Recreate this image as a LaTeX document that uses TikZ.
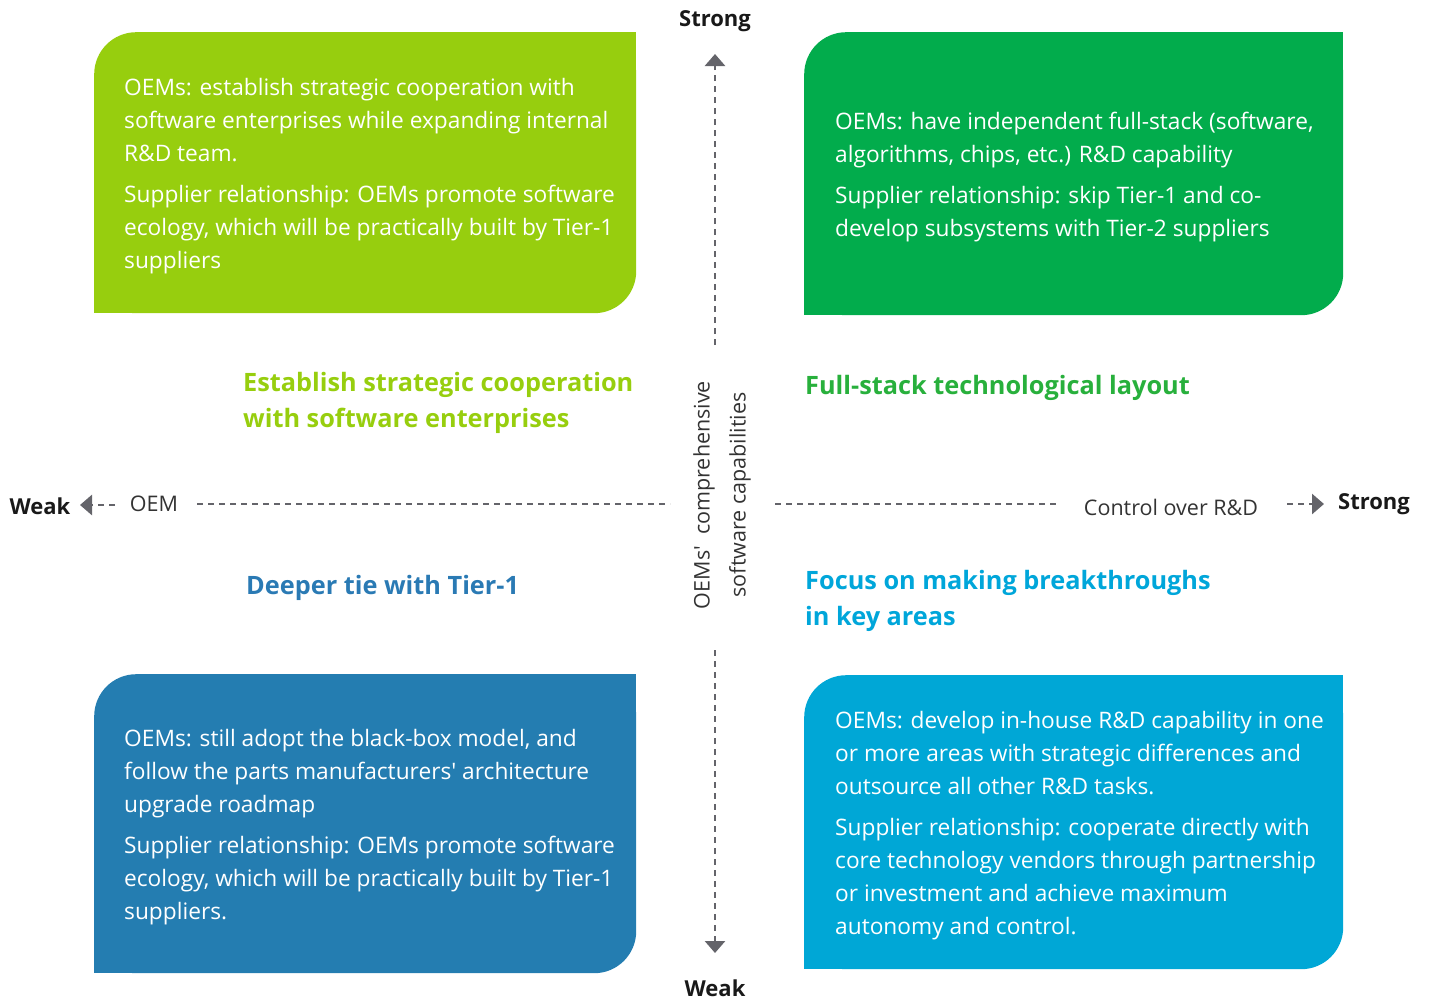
\documentclass[tikz,border=0pt]{standalone}
\usepackage{fontspec}
\setmainfont{Open Sans}
\usetikzlibrary{arrows.meta}
\definecolor{lgreen}{RGB}{151,206,14}
\definecolor{dgreen}{RGB}{2,172,76}
\definecolor{hgreen}{RGB}{40,176,60}
\definecolor{dblue}{RGB}{36,125,177}
\definecolor{hblue}{RGB}{42,122,180}
\definecolor{lblue}{RGB}{0,167,214}
\definecolor{hlblue}{RGB}{0,166,218}
\definecolor{axisgray}{RGB}{100,100,106}
\definecolor{labelgray}{RGB}{51,51,51}
\tikzset{
  quadbox/.style={minimum width=#1, inner sep=0pt, rounded corners=42pt, anchor=north west},
  boxtext/.style={text=white, align=left, inner sep=0pt, anchor=west,
    font={\fontsize{22.7}{33}\selectfont}},
  heading/.style={align=left, inner sep=0pt, anchor=west,
    font={\fontsize{25.3}{36}\selectfont\bfseries}},
  axislabel/.style={inner sep=0pt, text=labelgray, font={\fontsize{21.5}{26}\selectfont}},
  endlabel/.style={inner sep=0pt, text=black!90, font={\fontsize{22}{26}\selectfont\bfseries}},
  dashline/.style={draw=axisgray, line width=2.8pt, dash pattern=on 6pt off 5pt},
  tipline/.style={dashline, -{Triangle[width=20pt,length=12pt]}, shorten >=0pt},
}
\begin{document}
\begin{tikzpicture}[x=1pt,y=-1pt]
\useasboundingbox (0,0) rectangle (1430,1001);
% boxes
\node[quadbox=542, minimum height=281, fill=lgreen] (tlbox) at (94,32) {};
\fill[lgreen] (tlbox.north east) rectangle ++(-50,50);
\fill[lgreen] (tlbox.south west) rectangle ++(50,-50);
\node[quadbox=539, minimum height=283, fill=dgreen] (trbox) at (804,32) {};
\fill[dgreen] (trbox.north east) rectangle ++(-50,50);
\fill[dgreen] (trbox.south west) rectangle ++(50,-50);
\node[quadbox=542, minimum height=299, fill=dblue] (blbox) at (94,674) {};
\fill[dblue] (blbox.north east) rectangle ++(-50,50);
\fill[dblue] (blbox.south west) rectangle ++(50,-50);
\node[quadbox=539, minimum height=294, fill=lblue] (brbox) at (804,675) {};
\fill[lblue] (brbox.north east) rectangle ++(-50,50);
\fill[lblue] (brbox.south west) rectangle ++(50,-50);
% box texts
\node[boxtext] (tltext) at ([xshift=30pt,yshift=-3pt]tlbox.west) {OEMs: establish strategic cooperation with\\software enterprises while expanding internal\\R\&D team.\\[8pt]Supplier relationship: OEMs promote software\\ecology, which will be practically built by Tier-1\\suppliers};
\node[boxtext] (trtext) at ([xshift=31pt,yshift=-3pt]trbox.west) {OEMs: have independent full-stack (software,\\algorithms, chips, etc.) R\&D capability\\[8pt]Supplier relationship: skip Tier-1 and co-\\develop subsystems with Tier-2 suppliers};
\node[boxtext] (bltext) at ([xshift=30pt,yshift=-3pt]blbox.west) {OEMs: still adopt the black-box model, and\\follow the parts manufacturers\textquotesingle{} architecture\\upgrade roadmap\\[8pt]Supplier relationship: OEMs promote software\\ecology, which will be practically built by Tier-1\\suppliers.};
\node[boxtext] (brtext) at ([xshift=31pt,yshift=-3pt]brbox.west) {OEMs: develop in-house R\&D capability in one\\or more areas with strategic differences and\\outsource all other R\&D tasks.\\[8pt]Supplier relationship: cooperate directly with\\core technology vendors through partnership\\or investment and achieve maximum\\autonomy and control.};
% headings
\node[heading, text=lgreen] (tlhead) at (243,403) {Establish strategic cooperation\\with software enterprises};
\node[heading, text=hgreen] (trhead) at (805,388) {Full-stack technological layout};
\node[heading, text=hblue] (blhead) at (246,588) {Deeper tie with Tier-1};
\node[heading, text=hlblue] (brhead) at (805,601) {Focus on making breakthroughs\\in key areas};
% axis labels
\node[endlabel] (topstrong) at (715,21) {Strong};
\node[endlabel] (botweak) at (715,988) {Weak};
\node[endlabel] (leftweak) at (40,506) {Weak};
\node[endlabel] (rightstrong) at (1374,504) {Strong};
\node[axislabel] (oem) at (154,504) {OEM};
\node[axislabel] (control) at (1171,507) {Control over R\&D};
\node[axislabel, rotate=90, align=center, font={\fontsize{21.5}{36}\selectfont}] (vlabel) at (722,495) {OEMs\textquotesingle~ comprehensive\\software capabilities};
% axis coordinates
\coordinate (upstart) at (715,345);
\coordinate (uptip) at (715,54);
\coordinate (downstart) at (715,650);
\coordinate (downtip) at (715,953);
\coordinate (leftstart) at (115,505);
\coordinate (lefttip) at (80,505);
\coordinate (hlA) at (197,504);
\coordinate (hlB) at (670,504);
\coordinate (hrA) at (775,504);
\coordinate (hrB) at (1058,504);
\coordinate (rightstart) at (1287,504);
\coordinate (righttip) at (1324,504);
% axes
\draw[tipline] (upstart) -- (uptip);
\draw[tipline] (downstart) -- (downtip);
\draw[tipline] (leftstart) -- (lefttip);
\draw[tipline] (rightstart) -- (righttip);
\draw[dashline] (hlA) -- (hlB);
\draw[dashline] (hrA) -- (hrB);
\end{tikzpicture}
\end{document}
